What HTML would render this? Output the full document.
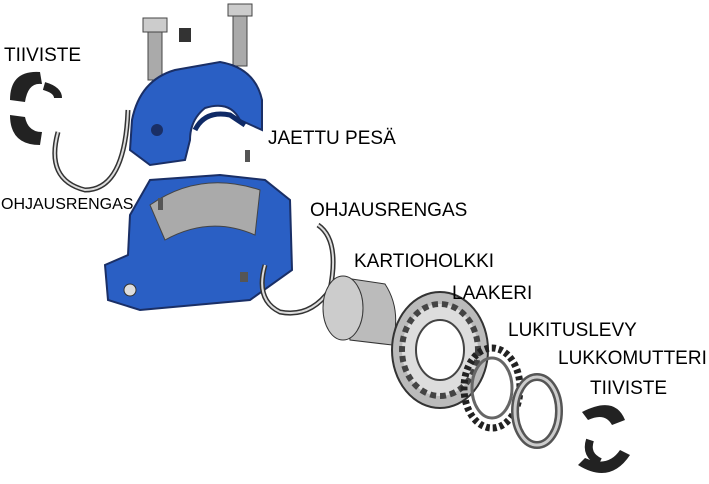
<!DOCTYPE html>
<html><head><meta charset="utf-8"><style>
html,body{margin:0;padding:0;background:#fff}
svg{display:block}
text{font-family:"Liberation Sans",Arial,sans-serif;fill:#000}
</style></head><body>
<svg width="709" height="484" viewBox="0 0 709 484" xmlns="http://www.w3.org/2000/svg">
<rect width="709" height="484" fill="#fff"/>
<rect x="148" y="30" width="14" height="50" fill="#aaa" stroke="#444"/>
<rect x="143" y="18" width="24" height="14" fill="#ccc" stroke="#444"/>
<rect x="233" y="14" width="14" height="52" fill="#aaa" stroke="#444"/>
<rect x="228" y="4" width="24" height="12" fill="#ccc" stroke="#444"/>
<rect x="179" y="28" width="12" height="14" fill="#333"/>
<path d="M132,120 Q140,80 175,70 L220,62 Q255,68 262,100 L262,130 L240,120 Q230,100 205,108 Q190,120 190,140 L185,160 L150,165 L130,150 Z" fill="#2a5fc4" stroke="#1a2f66" stroke-width="2"/>
<path d="M195,130 Q205,110 230,115 L245,125" fill="none" stroke="#0f2a66" stroke-width="5"/>
<circle cx="157" cy="130" r="6" fill="#1a2f66"/>
<path d="M130,215 L150,180 L220,175 L265,180 L290,200 L292,270 L250,300 L140,310 L108,300 L105,265 L128,255 Z" fill="#2a5fc4" stroke="#1a2f66" stroke-width="2"/>
<path d="M150,205 Q200,170 260,190 L255,235 Q210,215 165,240 Z" fill="#aaa" stroke="#444"/>
<circle cx="130" cy="290" r="6" fill="#ddd" stroke="#333"/>
<rect x="245" y="150" width="5" height="12" fill="#555"/>
<rect x="158" y="198" width="5" height="12" fill="#555"/>
<rect x="240" y="272" width="8" height="10" fill="#555"/>
<path d="M40,72 Q10,70 10,100 L25,102 Q28,82 42,84 Z" fill="#222"/>
<path d="M10,115 Q10,145 40,145 L42,132 Q28,132 25,117 Z" fill="#222"/>
<path d="M44,86 Q58,90 58,98" fill="none" stroke="#222" stroke-width="8"/>
<path d="M58,132 Q45,180 85,190 Q125,190 128,110" fill="none" stroke="#333" stroke-width="5"/>
<path d="M58,132 Q45,180 85,190 Q125,190 128,110" fill="none" stroke="#ddd" stroke-width="2"/>
<path d="M318,225 Q340,240 330,290 Q310,318 280,312 Q255,300 265,265" fill="none" stroke="#333" stroke-width="5"/>
<path d="M318,225 Q340,240 330,290 Q310,318 280,312 Q255,300 265,265" fill="none" stroke="#ddd" stroke-width="2"/>
<path d="M345,278 L385,284 Q402,310 392,345 L350,340 Z" fill="#bbb" stroke="#333"/>
<ellipse cx="343" cy="308" rx="20" ry="32" fill="#ccc" stroke="#333"/>
<ellipse cx="440" cy="350" rx="48" ry="58" fill="#bbb" stroke="#333" stroke-width="2"/>
<ellipse cx="440" cy="350" rx="38" ry="46" fill="#ddd" stroke="#444" stroke-width="6" stroke-dasharray="6 4"/>
<ellipse cx="440" cy="350" rx="24" ry="30" fill="#fff" stroke="#444" stroke-width="2"/>
<ellipse cx="492" cy="388" rx="28" ry="40" fill="none" stroke="#222" stroke-width="7" stroke-dasharray="4 3"/>
<ellipse cx="492" cy="388" rx="20" ry="30" fill="none" stroke="#666" stroke-width="3"/>
<ellipse cx="537" cy="411" rx="22" ry="34" fill="none" stroke="#555" stroke-width="8"/>
<ellipse cx="537" cy="411" rx="22" ry="34" fill="none" stroke="#ccc" stroke-width="3"/>
<path d="M582,412 Q615,395 625,420 L612,425 Q605,412 588,420 Z" fill="#222"/>
<path d="M590,440 Q585,455 600,462" fill="none" stroke="#222" stroke-width="8"/>
<path d="M578,465 Q610,485 630,455 L620,450 Q608,468 585,458 Z" fill="#222"/>
<text x="4" y="61" font-size="19">TIIVISTE</text>
<text x="1" y="209" font-size="16">OHJAUSRENGAS</text>
<text x="268" y="144" font-size="19">JAETTU PESÄ</text>
<text x="310" y="216" font-size="19">OHJAUSRENGAS</text>
<text x="354" y="267" font-size="19">KARTIOHOLKKI</text>
<text x="452" y="299" font-size="19">LAAKERI</text>
<text x="508" y="336" font-size="19">LUKITUSLEVY</text>
<text x="558" y="364" font-size="19">LUKKOMUTTERI</text>
<text x="590" y="394" font-size="19">TIIVISTE</text>
</svg>
</body></html>
